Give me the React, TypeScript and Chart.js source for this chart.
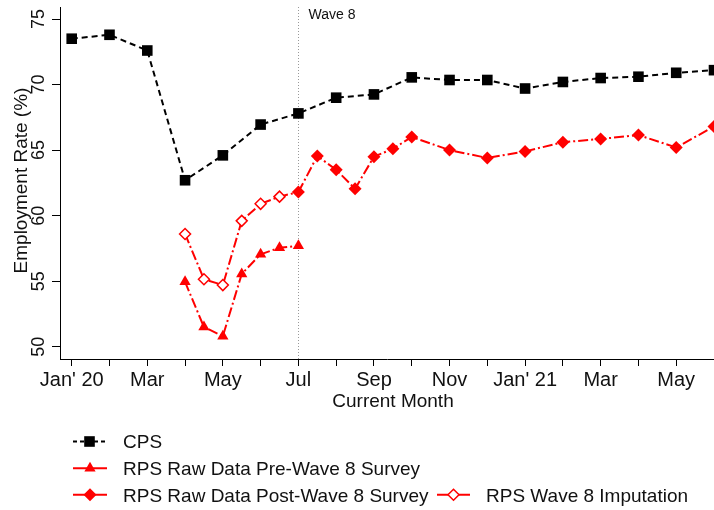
import React, { useEffect, useRef } from 'react';
import { Chart, registerables } from 'chart.js';

Chart.register(...registerables);

// ---------- data ----------
const xTickLabels = ["Jan' 20", '', 'Mar', '', 'May', '', 'Jul', '', 'Sep', '', 'Nov', '', "Jan' 21", '', 'Mar', '', 'May', ''];
const yTickValues = [50, 55, 60, 65, 70, 75];

const cpsMonths = [0, 1, 2, 3, 4, 5, 6, 7, 8, 9, 10, 11, 12, 13, 14, 15, 16, 17];
const cpsValues = [73.5, 73.8, 72.6, 62.7, 64.6, 66.95, 67.8, 69.0, 69.25, 70.55, 70.35, 70.35, 69.7, 70.2, 70.5, 70.6, 70.9, 71.1];

const preWaveMonths = [3, 3.5, 4, 4.5, 5, 5.5, 6];
const preWaveValues = [54.95, 51.5, 50.8, 55.55, 57.05, 57.55, 57.7];

const postWaveMonths = [6, 6.5, 7, 7.5, 8, 8.5, 9, 10, 11, 12, 13, 14, 15, 16, 17];
const postWaveValues = [61.8, 64.55, 63.5, 62.05, 64.5, 65.1, 66.0, 65.0, 64.4, 64.9, 65.6, 65.85, 66.15, 65.2, 66.8];

const imputationMonths = [3, 3.5, 4, 4.5, 5, 5.5, 6];
const imputationValues = [58.6, 55.15, 54.7, 59.6, 60.9, 61.45, 61.8];

const seriesLabels = ['CPS', 'RPS Raw Data Pre-Wave 8 Survey', 'RPS Raw Data Post-Wave 8 Survey', 'RPS Wave 8 Imputation'];
const waveMonth = 6;
const waveLabel = 'Wave 8';
const xTitle = 'Current Month';
const yTitle = 'Employment Rate (%)';

// ---------- style ----------
const FONT = '"Liberation Sans", Arial, Helvetica, sans-serif';
const TEXT = '#111';
const RED = '#ff0000';
const CPS_DASH = [6, 4];
const RED_DASH = [10, 3, 2, 3];

const toPoints = (xs: number[], ys: number[]) => xs.map((x, i) => ({ x, y: ys[i] }));

function drawMarker(ctx: CanvasRenderingContext2D, kind: string, x: number, y: number) {
  ctx.save();
  ctx.setLineDash([]);
  if (kind === 'square') {
    ctx.fillStyle = '#000';
    ctx.fillRect(x - 5.3, y - 5.3, 10.6, 10.6);
  } else if (kind === 'triangle') {
    const r = 6.5;
    ctx.fillStyle = RED;
    ctx.beginPath();
    ctx.moveTo(x, y - r);
    ctx.lineTo(x + r * Math.sin((2 * Math.PI) / 3), y - r * Math.cos((2 * Math.PI) / 3));
    ctx.lineTo(x + r * Math.sin((4 * Math.PI) / 3), y - r * Math.cos((4 * Math.PI) / 3));
    ctx.closePath();
    ctx.fill();
  } else {
    const r = kind === 'diamond' ? 6.5 : 5.5;
    ctx.beginPath();
    ctx.moveTo(x, y - r);
    ctx.lineTo(x + r, y);
    ctx.lineTo(x, y + r);
    ctx.lineTo(x - r, y);
    ctx.closePath();
    if (kind === 'diamond') {
      ctx.fillStyle = RED;
      ctx.fill();
    } else {
      ctx.fillStyle = '#fff';
      ctx.fill();
      ctx.strokeStyle = RED;
      ctx.lineWidth = 1.5;
      ctx.stroke();
    }
  }
  ctx.restore();
}

const overlayPlugin = {
  id: 'overlay',
  beforeDatasetsDraw(chart: any) {
    const { ctx, chartArea } = chart;
    const xs = chart.scales.x;
    const px = Math.round(xs.getPixelForValue(waveMonth)) + 0.5;
    ctx.save();
    ctx.strokeStyle = '#999';
    ctx.lineWidth = 1;
    ctx.setLineDash([1, 2]);
    ctx.beginPath();
    ctx.moveTo(px, chartArea.top);
    ctx.lineTo(px, chartArea.bottom);
    ctx.stroke();
    ctx.setLineDash([]);
    ctx.fillStyle = TEXT;
    ctx.font = `14px ${FONT}`;
    ctx.textAlign = 'left';
    ctx.textBaseline = 'alphabetic';
    ctx.fillText(waveLabel, px + 10, chartArea.top + 11.5);
    ctx.restore();
  },
  afterDraw(chart: any) {
    const { ctx, chartArea } = chart;
    const ys = chart.scales.y;
    ctx.save();
    ctx.fillStyle = TEXT;
    // y tick labels (rotated)
    ctx.font = `18px ${FONT}`;
    ctx.textAlign = 'center';
    ctx.textBaseline = 'alphabetic';
    for (const v of yTickValues) {
      const py = ys.getPixelForValue(v);
      ctx.save();
      ctx.translate(chartArea.left - 16.5, py);
      ctx.rotate(-Math.PI / 2);
      ctx.fillText(String(v), 0, 0);
      ctx.restore();
    }
    // y title
    ctx.font = `19px ${FONT}`;
    ctx.save();
    ctx.translate(chartArea.left - 33.5, 180.5);
    ctx.rotate(-Math.PI / 2);
    ctx.fillText(yTitle, 0, 0);
    ctx.restore();
    // x title
    ctx.fillText(xTitle, 393, chartArea.bottom + 48);

    // legend
    const ds = chart.data.datasets;
    const items = [
      { i: 0, kind: 'square', lx: 73, rx: 106, cy: 441.5, tx: 123 },
      { i: 1, kind: 'triangle', lx: 73, rx: 107, cy: 468.2, tx: 123 },
      { i: 2, kind: 'diamond', lx: 73, rx: 107, cy: 494.8, tx: 123 },
      { i: 3, kind: 'hollow', lx: 437, rx: 470, cy: 494.8, tx: 486 },
    ];
    for (const it of items) {
      const d = ds[it.i];
      ctx.save();
      ctx.strokeStyle = d.borderColor;
      ctx.lineWidth = 2;
      ctx.setLineDash(it.i === 0 ? [4, 3] : []);
      ctx.beginPath();
      ctx.moveTo(it.lx, it.cy);
      ctx.lineTo(it.rx, it.cy);
      ctx.stroke();
      ctx.restore();
      drawMarker(ctx, it.kind, (it.lx + it.rx) / 2, it.cy);
      ctx.fillStyle = TEXT;
      ctx.font = `19px ${FONT}`;
      ctx.textAlign = 'left';
      ctx.textBaseline = 'alphabetic';
      ctx.fillText(d.label, it.tx, it.cy + 6.8);
    }
    ctx.restore();
  },
};

export default function App() {
  const ref = useRef<HTMLCanvasElement>(null);
  useEffect(() => {
    const canvas = ref.current!;
    Chart.defaults.font.family = FONT;
    const axisGrid = (len: number) => ({
      display: true,
      drawOnChartArea: false,
      drawTicks: true,
      tickLength: len,
      color: '#000',
      lineWidth: 1,
    });
    const chart = new Chart(canvas, {
      type: 'line',
      data: {
        datasets: [
          {
            label: seriesLabels[0],
            data: toPoints(cpsMonths, cpsValues),
            borderColor: '#000',
            backgroundColor: '#000',
            borderWidth: 2,
            borderDash: CPS_DASH,
            pointStyle: 'rect',
            pointRadius: 7.5,
            pointBorderWidth: 0,
            pointBackgroundColor: '#000',
            tension: 0,
            order: 0,
          },
          {
            label: seriesLabels[1],
            data: toPoints(preWaveMonths, preWaveValues),
            borderColor: RED,
            backgroundColor: RED,
            borderWidth: 2,
            borderDash: RED_DASH,
            pointStyle: 'triangle',
            pointRadius: 6.5,
            pointBorderWidth: 0,
            pointBackgroundColor: RED,
            tension: 0,
            order: 2,
          },
          {
            label: seriesLabels[2],
            data: toPoints(postWaveMonths, postWaveValues),
            borderColor: RED,
            backgroundColor: RED,
            borderWidth: 2,
            borderDash: RED_DASH,
            pointStyle: 'rectRot',
            pointRadius: 6.5,
            pointBorderWidth: 0,
            pointBackgroundColor: RED,
            tension: 0,
            order: 1,
          },
          {
            label: seriesLabels[3],
            data: toPoints(imputationMonths, imputationValues),
            borderColor: RED,
            backgroundColor: '#fff',
            borderWidth: 2,
            borderDash: RED_DASH,
            pointStyle: 'rectRot',
            pointRadius: imputationMonths.map((m) => (m === waveMonth ? 0 : 5.5)),
            pointBorderWidth: 1.5,
            pointBorderColor: RED,
            pointBackgroundColor: '#fff',
            tension: 0,
            order: 3,
          },
        ],
      },
      options: {
        responsive: false,
        animation: false,
        events: [],
        layout: { autoPadding: false, padding: { top: 7, right: 0, bottom: 0, left: 0 } },
        plugins: { legend: { display: false }, tooltip: { enabled: false }, title: { display: false } },
        scales: {
          x: {
            type: 'linear',
            min: -0.31,
            max: 17,
            afterBuildTicks: (s: any) => {
              s.ticks = xTickLabels.map((_, i) => ({ value: i }));
            },
            afterFit: (s: any) => {
              s.height = 151;
              s.paddingLeft = 0;
              s.paddingRight = 0;
            },
            ticks: {
              autoSkip: false,
              maxRotation: 0,
              minRotation: 0,
              padding: 2,
              color: TEXT,
              font: { size: 20, family: FONT },
              callback: (_v: any, i: number) => xTickLabels[i] ?? '',
            },
            grid: axisGrid(7),
            border: { display: true, color: '#000', width: 1 },
          },
          y: {
            type: 'linear',
            min: 49.06,
            max: 75.92,
            afterBuildTicks: (s: any) => {
              s.ticks = yTickValues.map((v) => ({ value: v }));
            },
            afterFit: (s: any) => {
              s.width = 60;
              s.paddingTop = 0;
              s.paddingBottom = 0;
            },
            ticks: { display: false },
            grid: axisGrid(8),
            border: { display: true, color: '#000', width: 1 },
          },
        },
      } as any,
      plugins: [overlayPlugin],
    });
    return () => chart.destroy();
  }, []);
  return (
    <div style={{ position: 'absolute', left: 0, top: 0, width: 714, height: 510, background: '#fff' }}>
      <canvas ref={ref} width={714} height={510} style={{ width: '714px', height: '510px', display: 'block' }} />
    </div>
  );
}
